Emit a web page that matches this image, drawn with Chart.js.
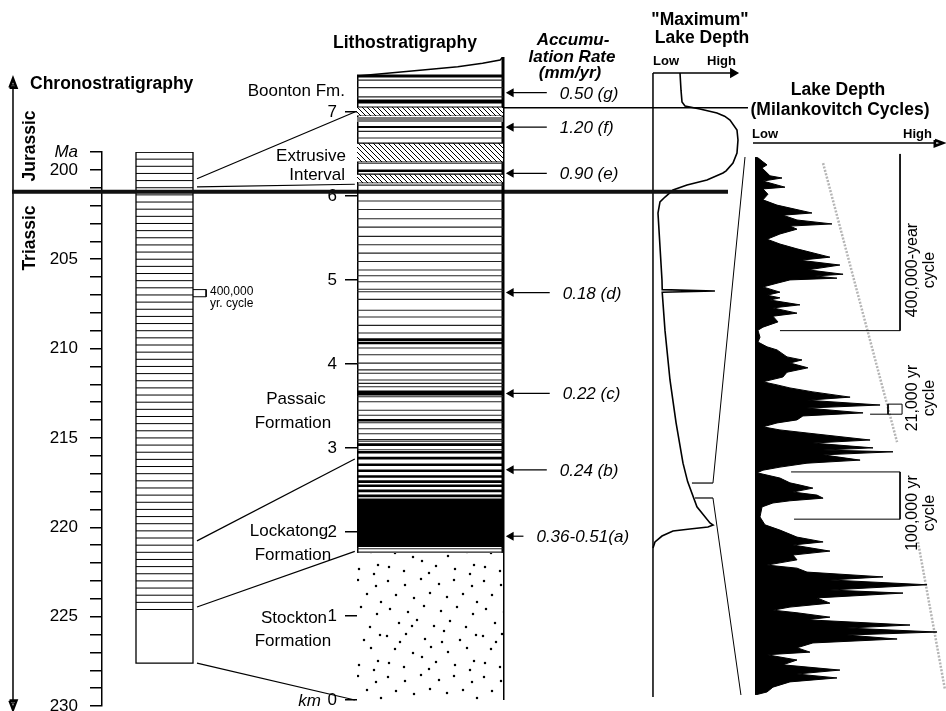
<!DOCTYPE html>
<html>
<head>
<meta charset="utf-8">
<title>Newark basin stratigraphy</title>
<script src="https://cdn.jsdelivr.net/npm/chart.js@4.4.1/dist/chart.umd.min.js"></script>
<style>
 html,body{margin:0;padding:0;background:#fff;}
 #wrap{position:relative;width:946px;height:711px;overflow:hidden;background:#fff;
   font-family:"Liberation Sans",Arial,Helvetica,sans-serif;color:#000;}
 #wrap canvas{position:absolute;left:0;top:0;width:946px;height:711px;}
 .t{position:absolute;white-space:nowrap;line-height:1;}
</style>
</head>
<body>
<div id="wrap">
 <canvas id="cA" width="946" height="711"></canvas>
 <canvas id="cB" width="946" height="711"></canvas>
 <canvas id="cC" width="946" height="711"></canvas>
</div>
<script>
// ================= DATA =================
// Chronostratigraphy (Ma)
const maRange = [199, 230];
const chronoColumnMa = [199, 227.6];
const cycleBoundariesMa = [199.0,199.4,199.8,200.2,200.6,201.0,201.4,201.8,202.2,202.6,203.0,203.4,203.8,204.2,204.6,
  205.0,205.4,205.8,206.2,206.6,207.0,207.4,207.8,208.2,208.6,209.0,209.4,209.8,210.2,210.6,211.0,211.4,211.8,212.2,
  212.6,213.0,213.4,213.8,214.2,214.6,215.0,215.4,215.8,216.2,216.6,217.0,217.4,217.8,218.2,218.6,219.0,219.4,219.8,
  220.2,220.6,221.0,221.4,221.8,222.2,222.6,223.0,223.4,223.8,224.2,224.6];
const cycleMarkerMa = [206.7, 207.1];
const timeArrowMa = [194.9, 230.2];

// Correlation of the time scale with the section (Ma -> km)
const corrMa = [200.5, 200.95, 220.76, 224.46, 227.6];
const corrKm = [7.0, 6.14, 2.87, 1.77, 0.0];

// Lithostratigraphy (km)
const kmRange = [0, 7.655];
const columnTopKm = 7.43;
const capPos = [0, 0.45, 0.69, 0.86, 0.98, 1.0];
const capKm = [7.43, 7.50, 7.54, 7.58, 7.62, 7.655];
const stippleKm = [0, 1.75];
const blackBandsKm = [[1.82, 2.40], [7.10, 7.15], [6.81, 6.835]];
const hatchBandsKm = [[6.16, 6.26], [6.41, 6.63], [6.96, 7.06]];
const greyBandsKm = [[6.88, 6.94]];
const whiteDottedKm = [1.87, 2.02, 2.12, 2.23, 2.31];
const thinLayersKm = [7.18, 7.29, 7.38, 6.13, 6.39, 6.69, 6.77,
  5.94, 5.84, 5.73, 5.63, 5.52, 5.42, 5.32, 5.22, 5.12, 5.05, 4.98, 4.89, 4.86, 4.77, 4.64, 4.56, 4.46, 4.37,
  4.19, 4.11, 4.01, 3.93, 3.89, 3.81, 3.77, 3.73, 3.61, 3.55, 3.45, 3.39, 3.30, 3.23, 3.17, 3.10, 3.08, 2.98,
  1.76, 1.80];
const thickLayersKm = [6.30, 4.29, 4.25, 3.67, 3.64, 3.33, 3.04, 2.95, 2.88, 2.80, 2.73, 2.66, 2.60, 2.55, 2.49, 2.43, 1.645];
const tjBoundaryKm = 6.05;
const boontonBaseKm = 7.05;

// Accumulation rates (mm/yr) and where they apply (km)
const accumKm = [7.23, 6.82, 6.27, 4.85, 3.65, 2.74, 1.95];
const accumLabels = ['0.50 (g)', '1.20 (f)', '0.90 (e)', '0.18 (d)', '0.22 (c)', '0.24 (b)', '0.36-0.51(a)'];

// "Maximum" lake depth (0 = low, 1 = high) versus km
const maxDepthKm  = [7.464, 7.26, 7.119, 7.071, 7.036, 6.988, 6.95, 6.905, 6.786, 6.667, 6.512, 6.393, 6.30, 6.274, 6.19, 6.131, 6.071, 5.988, 5.929, 5.798, 5.0, 4.885, 4.87, 4.855, 4.4, 3.81, 3.3, 2.82, 2.6, 2.30, 2.107, 2.083, 2.06, 2.036, 2.012, 1.952, 1.881, 1.81];
const maxDepthVal = [0.351, 0.364, 0.377, 0.416, 0.610, 0.831, 0.93, 1.0, 1.091, 1.104, 1.091, 1.039, 0.95, 0.909, 0.701, 0.442, 0.260, 0.156, 0.091, 0.065, 0.117, 0.12, 0.805, 0.12, 0.156, 0.221, 0.30, 0.39, 0.45, 0.571, 0.74, 0.78, 0.714, 0.48, 0.26, 0.117, 0.026, 0];
const maxDepthAxisKm = [7.464, 0.036];
const cycleWindowKm = [2.405, 2.583];

// Lake depth (Milankovitch cycles): position in record (kyr from top) and depth (0 low - 100 high)
const milKyr = [0,2,11,18,25,43,48,55,69,73,85,98,110,128,133,144,153,158,165,176,188,199,210,229,236,247,258,268,272,277,
  281,288,297,309,316,322,327,338,345,357,364,377,389,396,412,423,434,441,457,464,471,482,492,503,514,521,528,537,549,556,
  567,574,585,592,601,608,617,624,631,647,654,665,670,674,681,693,700,709,716,722,734,745,750,757,766,773,780,786,791,800,
  823,841,853,869,880,887,901,910,921,933,940,949,960,967,978,990,997,1008,1020,1029,1036,1042,1052,1058,1070,1077,1086,
  1093,1102,1111,1122,1132,1138,1150,1161,1173,1182,1191,1200,1212,1223,1230];
const milDepth = [0,1.6,4.3,6.5,3.8,8.1,14.6,4.3,16.2,4.3,7.0,4.3,11.9,30.8,15.1,22.7,41.6,18.9,22.7,13.5,6.5,13.5,22.7,40.5,24.3,
  45.9,28.6,47.6,32.4,44.3,18.9,12.4,4.3,13.5,6.5,13.5,8.1,24.3,9.7,22.7,9.7,12.4,4.3,1.6,2.7,1.6,6.5,11.9,17.3,25.4,18.9,28.6,
  17.3,15.1,4.3,11.9,18.9,31.3,51.4,28.1,67.6,28.1,58.4,25.9,22.7,11.9,4.3,13.5,28.1,62.2,31.3,63.8,36.8,74.6,36.8,56.8,28.1,
  13.5,4.3,1.1,13.5,18.9,24.3,31.3,20.5,33.5,36.8,18.9,9.7,3.8,2.7,5.4,13.5,22.7,36.8,20.5,40.5,20.5,22.7,6.5,22.7,28.1,69.2,
  40.5,93.0,40.5,80.0,33.5,40.5,18.9,9.7,22.7,40.5,28.1,83.8,49.7,98.4,49.7,76.8,31.3,22.7,29.7,6.5,22.7,15.1,45.9,22.7,44.3,
  18.9,9.7,6.5,0];
const milRange = [0, 1230];
const bracket400Kyr = [-7, 397];
const bracket100Kyr = [720, 828];
const bracket21Kyr = [565, 588];
const trendA = [[36.8, 14], [76.8, 652]];
const trendB = [[88.1, 880], [102.7, 1218]];

// ================= HELPERS =================
const FAM = '"Liberation Sans", Arial, Helvetica, sans-serif';
const wrap = document.getElementById('wrap');
function txt(s, x, y, o = {}) {
  const d = document.createElement('div');
  d.className = 't'; d.textContent = s;
  d.style.fontSize = (o.size || 17) + 'px';
  if (o.bold) d.style.fontWeight = 'bold';
  if (o.italic) d.style.fontStyle = 'italic';
  const ax = o.align === 'right' ? '-100%' : o.align === 'left' ? '0' : '-50%';
  d.style.left = x + 'px'; d.style.top = y + 'px';
  d.style.transform = `translate(${ax},-50%)` + (o.rot ? ` rotate(${o.rot}deg)` : '');
  wrap.appendChild(d);
  return d;
}
function seg(xa, xb, y, extra) {
  return Object.assign({ data: [{ x: xa, y }, { x: xb, y }], borderColor: '#000', borderWidth: 1, pointRadius: 0 }, extra || {});
}
function vseg(x, ya, yb, extra) {
  return Object.assign({ data: [{ x, y: ya }, { x, y: yb }], borderColor: '#000', borderWidth: 1, pointRadius: 0 }, extra || {});
}
// small closed triangle outline (drawn thick so that it reads as a solid arrow head)
function head(tip, base, halfW, vertical, extra) {
  const [tx, ty] = tip;
  const pts = vertical
    ? [{ x: tx - halfW, y: base }, { x: tx, y: ty }, { x: tx + halfW, y: base }, { x: tx - halfW, y: base }]
    : [{ x: base, y: ty - halfW }, { x: tx, y: ty }, { x: base, y: ty + halfW }, { x: base, y: ty - halfW }];
  return Object.assign({ data: pts, borderColor: '#000', borderWidth: 2.6, borderJoinStyle: 'miter', pointRadius: 0, clip: false }, extra || {});
}
function makeStipple() {
  const s = 96, c = document.createElement('canvas'); c.width = s; c.height = s;
  const g = c.getContext('2d'); g.fillStyle = '#fff'; g.fillRect(0, 0, s, s);
  g.fillStyle = '#000';
  [[4,5],[21,9],[37,3],[55,8],[70,4],[88,10],[12,19],[30,22],[46,17],[63,21],[79,18],[93,26],
   [6,33],[24,36],[40,30],[57,35],[73,31],[89,38],[15,47],[33,44],[50,50],[66,45],[82,51],[60,55],
   [3,60],[22,58],[41,63],[76,64],[92,59],[11,73],[29,77],[47,71],[64,76],[83,72],[38,81],
   [5,87],[20,91],[52,86],[71,89],[90,85],[16,66],[86,94],[45,93],[58,66],[28,50]]
    .forEach(([x, y]) => { g.beginPath(); g.arc(x, y, 1.25, 0, Math.PI * 2); g.fill(); });
  return g.createPattern(c, 'repeat');
}
function makeHatch() {
  const s = 5, c = document.createElement('canvas'); c.width = s; c.height = s;
  const g = c.getContext('2d'); g.fillStyle = '#fff'; g.fillRect(0, 0, s, s);
  g.strokeStyle = '#000'; g.lineWidth = 1;
  g.beginPath(); g.moveTo(-1, -1); g.lineTo(s + 1, s + 1); g.moveTo(-1, s - 1); g.lineTo(1, s + 1); g.moveTo(s - 1, -1); g.lineTo(s + 1, 1); g.stroke();
  return g.createPattern(c, 'repeat');
}
const BASE = () => ({
  responsive: false, animation: false, events: [],
  plugins: { legend: { display: false }, tooltip: { enabled: false } },
  elements: { point: { radius: 0, hoverRadius: 0 }, line: { tension: 0, borderColor: '#000', borderWidth: 1, fill: false } },
});

// ================= CHART A : chronostratigraphy =================
const timeArrowX = -2.158;
const dsA = [];
dsA.push({ data: [{x:0,y:chronoColumnMa[0]},{x:1,y:chronoColumnMa[0]},{x:1,y:chronoColumnMa[1]},{x:0,y:chronoColumnMa[1]},{x:0,y:chronoColumnMa[0]}], borderWidth: 1.3, borderColor: '#000' });
cycleBoundariesMa.forEach(m => dsA.push(seg(0, 1, m, { borderWidth: 1 })));
dsA.push({ data: [{x:1,y:cycleMarkerMa[0]},{x:1.23,y:cycleMarkerMa[0]},{x:1.23,y:cycleMarkerMa[1]},{x:1,y:cycleMarkerMa[1]}], borderWidth: 1, borderColor: '#000', clip: false });
dsA.push(vseg(timeArrowX, timeArrowMa[0] + 0.3, timeArrowMa[1] - 0.3, { borderWidth: 1.5, clip: false }));
dsA.push(head([timeArrowX, timeArrowMa[0]], timeArrowMa[0] + 0.5, 0.06, true));
dsA.push(head([timeArrowX, timeArrowMa[1]], timeArrowMa[1] - 0.5, 0.06, true));

const optA = BASE();
optA.layout = { padding: { left: 0, top: 152, right: 746, bottom: 5 } };
optA.scales = {
  x: { type: 'linear', display: false, min: -0.5965, max: 1.1228 },
  y: { type: 'linear', reverse: true, min: maRange[0], max: maRange[1], position: 'left',
    afterFit(s) { s.width = 102; s.paddingTop = 0; s.paddingBottom = 0; },
    border: { display: true, color: '#000', width: 1.5 },
    grid: { drawOnChartArea: false, drawTicks: true, tickLength: 12, color: '#000', lineWidth: 1.5 },
    ticks: { stepSize: 1, autoSkip: false, padding: 12, color: '#000',
      font: ctx => ({ family: FAM, size: 17, style: (ctx.tick && ctx.tick.value === 199) ? 'italic' : 'normal' }),
      callback: v => v === 199 ? 'Ma' : (v % 5 === 0 ? String(v) : '') } }
};
const chartA = new Chart(document.getElementById('cA'), { type: 'line', data: { datasets: dsA }, options: optA });

// ================= CHART B : lithostratigraphy + maximum lake depth =================
const stipple = makeStipple(), hatch = makeHatch();
const dsB = [];
const L = (d) => Object.assign({ xAxisID: 'xL', yAxisID: 'y' }, d);
const D = (d) => Object.assign({ xAxisID: 'xD', yAxisID: 'y' }, d);
dsB.push(L({ data: [{x:0,y:stippleKm[1]},{x:1,y:stippleKm[1]}], fill: { value: stippleKm[0] }, backgroundColor: stipple, borderWidth: 0 }));
blackBandsKm.forEach(([b, t]) => dsB.push(L({ data: [{x:0,y:t},{x:1,y:t}], fill: { value: b }, backgroundColor: '#000', borderWidth: 0 })));
hatchBandsKm.forEach(([b, t]) => {
  dsB.push(L({ data: [{x:0,y:t},{x:1,y:t}], fill: { value: b }, backgroundColor: hatch, borderColor: '#000', borderWidth: 1.2 }));
  dsB.push(L(seg(0, 1, b, { borderWidth: 1.2 })));
});
greyBandsKm.forEach(([b, t]) => dsB.push(L({ data: [{x:0,y:t},{x:1,y:t}], fill: { value: b }, backgroundColor: '#7a7a7a', borderWidth: 0 })));
whiteDottedKm.forEach(k => dsB.push(L(seg(0, 1, k, { borderColor: '#fff', borderWidth: 1.3, borderDash: [2, 2] }))));
thinLayersKm.forEach(k => dsB.push(L(seg(0, 1, k, { borderColor: '#222', borderWidth: 1.1 }))));
thickLayersKm.forEach(k => dsB.push(L(seg(0, 1, k, { borderWidth: 2.6 }))));
// column outline
dsB.push(L(vseg(0, 0, columnTopKm, { borderWidth: 3 })));
dsB.push(L(vseg(1, 0, capKm[capKm.length - 1], { borderWidth: 3 })));
dsB.push(L(seg(0, 1, 0, { borderWidth: 3 })));
dsB.push(L(seg(0, 1, columnTopKm, { borderWidth: 3 })));
dsB.push(L({ data: capPos.map((p, i) => ({ x: p, y: capKm[i] })), borderWidth: 1.5, borderColor: '#000' }));
// base of Boonton line and Triassic-Jurassic boundary
dsB.push(L(seg(1, 2.678, boontonBaseKm, { borderWidth: 1.4 })));
dsB.push(L(seg(-2.363, 2.541, tjBoundaryKm, { borderWidth: 4, borderColor: '#111', clip: false })));
// accumulation-rate arrows
const arrowStart = [1.30, 1.30, 1.30, 1.32, 1.32, 1.30, 1.14];
accumKm.forEach((k, i) => dsB.push(L({ data: [{x:1.055,y:k},{x:arrowStart[i],y:k}], borderWidth: 1.2, borderColor: '#000',
  pointStyle: 'triangle', pointRadius: [4, 0], pointRotation: 270, pointBackgroundColor: '#000', pointBorderColor: '#000' })));
// maximum lake depth axes
dsB.push(D(vseg(0, maxDepthAxisKm[0], maxDepthAxisKm[1], { borderWidth: 1.5 })));
dsB.push(D({ data: [{x:0,y:maxDepthAxisKm[0]},{x:1.04,y:maxDepthAxisKm[0]}], borderWidth: 1.5, borderColor: '#000',
  pointStyle: 'triangle', pointRadius: [0, 4.5], pointRotation: 90, pointBackgroundColor: '#000', pointBorderColor: '#000' }));
dsB.push(D({ data: maxDepthKm.map((k, i) => ({ x: maxDepthVal[i], y: k })), borderWidth: 1.6, borderColor: '#000' }));
dsB.push(D(seg(0.506, 0.779, cycleWindowKm[1], { borderWidth: 1.2 })));
dsB.push(D(seg(0.545, 0.779, cycleWindowKm[0], { borderWidth: 1.2 })));

const corrPlugin = {
  id: 'corr',
  afterDatasetsDraw(chart) {
    const ctx = chart.ctx; ctx.save(); ctx.strokeStyle = '#000'; ctx.lineWidth = 1.2;
    corrMa.forEach((m, i) => {
      ctx.beginPath();
      ctx.moveTo(chartA.scales.x.getPixelForValue(1.07), chartA.scales.y.getPixelForValue(m));
      ctx.lineTo(chart.scales.xL.getPixelForValue(-0.015), chart.scales.y.getPixelForValue(corrKm[i]));
      ctx.stroke();
    });
    ctx.restore();
  }
};
const optB = BASE();
optB.layout = { padding: { left: 317, top: 57, right: 189, bottom: 11 } };
optB.scales = {
  xL: { type: 'linear', display: false, min: 0, max: 2.7397 },
  xD: { type: 'linear', display: false, min: -3.844, max: 1.351 },
  y: { type: 'linear', position: 'left', min: kmRange[0], max: kmRange[1],
    afterFit(s) { s.width = 40; s.paddingTop = 0; s.paddingBottom = 0; },
    border: { display: false },
    grid: { drawOnChartArea: false, drawTicks: true, tickLength: 12, color: '#000', lineWidth: 1.5 },
    ticks: { stepSize: 1, includeBounds: false, autoSkip: false, padding: 8, color: '#000', font: { family: FAM, size: 17 } } }
};
const chartB = new Chart(document.getElementById('cB'), { type: 'line', data: { datasets: dsB }, options: optB, plugins: [corrPlugin] });

// ================= CHART C : Milankovitch lake depth =================
const dsC = [];
dsC.push({ data: milKyr.map((k, i) => ({ x: milDepth[i], y: k })), fill: 'origin', backgroundColor: '#000', borderColor: '#000', borderWidth: 1 });
dsC.push({ data: [{x:9.7,y:bracket400Kyr[0]},{x:78.4,y:bracket400Kyr[0]},{x:78.4,y:bracket400Kyr[1]},{x:13.5,y:bracket400Kyr[1]}], borderWidth: 1, borderColor: '#000', clip: false });
dsC.push({ data: [{x:19.5,y:bracket100Kyr[0]},{x:78.4,y:bracket100Kyr[0]},{x:78.4,y:bracket100Kyr[1]},{x:21.1,y:bracket100Kyr[1]}], borderWidth: 1, borderColor: '#000' });
dsC.push({ data: [{x:62.2,y:bracket21Kyr[1]},{x:79.5,y:bracket21Kyr[1]},{x:79.5,y:bracket21Kyr[0]},{x:71.9,y:bracket21Kyr[0]},{x:71.9,y:bracket21Kyr[1]}], borderWidth: 1, borderColor: '#000' });
[trendA, trendB].forEach(tr => dsC.push({ data: tr.map(([x, y]) => ({ x, y })), borderWidth: 2.5, borderColor: '#b5b5b5', borderDash: [2, 1.5], clip: false }));
dsC.push({ data: [{x:-1.1,y:-32},{x:98,y:-32}], borderWidth: 1.5, borderColor: '#000', clip: false });
dsC.push(head([101.5, -32], 97.2, 7, false));

const linkEndDepth = [-5.4, -7.6];
const zoomPlugin = {
  id: 'zoomlink',
  afterDatasetsDraw(chart) {
    const ctx = chart.ctx; ctx.save(); ctx.strokeStyle = '#000'; ctx.lineWidth = 1;
    [[cycleWindowKm[1], milRange[0], linkEndDepth[0]], [cycleWindowKm[0], milRange[1], linkEndDepth[1]]].forEach(([km, kyr, dx]) => {
      ctx.beginPath();
      ctx.moveTo(chartB.scales.xD.getPixelForValue(0.779), chartB.scales.y.getPixelForValue(km));
      ctx.lineTo(chart.scales.x.getPixelForValue(dx), chart.scales.y.getPixelForValue(kyr));
      ctx.stroke();
    });
    ctx.restore();
  }
};
const optC = BASE();
optC.indexAxis = 'y';
optC.layout = { padding: { left: 755, top: 157, right: 6, bottom: 16 } };
optC.scales = {
  x: { type: 'linear', display: false, min: 0, max: 100 },
  y: { type: 'linear', display: false, reverse: true, min: milRange[0], max: milRange[1] }
};
const chartC = new Chart(document.getElementById('cC'), { type: 'line', data: { datasets: dsC }, options: optC, plugins: [zoomPlugin] });

// ================= TEXT =================
txt('Chronostratigraphy', 30, 84, { bold: true, size: 17.5, align: 'left' });
txt('Jurassic', 30, 146, { bold: true, size: 17.5, rot: -90 });
txt('Triassic', 30, 238, { bold: true, size: 17.5, rot: -90 });
txt('400,000', 210, 291, { size: 12, align: 'left' });
txt('yr. cycle', 210, 303, { size: 12, align: 'left' });
txt('Lithostratigraphy', 405, 43, { bold: true, size: 17.5 });
txt('Boonton Fm.', 345, 90, { align: 'right' });
txt('Extrusive', 346, 155, { align: 'right' });
txt('Interval', 345, 174, { align: 'right' });
txt('Passaic', 296, 398);
txt('Formation', 293, 422);
txt('Lockatong', 289, 530);
txt('Formation', 293, 554);
txt('Stockton', 294, 617);
txt('Formation', 293, 640);
txt('km', 321, 700, { italic: true, align: 'right' });
txt('Accumu-', 573, 39, { bold: true, italic: true });
txt('lation Rate', 572, 56, { bold: true, italic: true });
txt('(mm/yr)', 570, 72, { bold: true, italic: true });
txt('"Maximum"', 700, 20, { bold: true, size: 17.5 });
txt('Lake Depth', 702, 38, { bold: true, size: 17.5 });
txt('Low', 653, 60, { bold: true, size: 13, align: 'left' });
txt('High', 707, 60, { bold: true, size: 13, align: 'left' });
txt('Lake Depth', 838, 90, { bold: true, size: 17.5 });
txt('(Milankovitch Cycles)', 840, 110, { bold: true, size: 17.5 });
txt('Low', 752, 133, { bold: true, size: 13, align: 'left' });
txt('High', 932, 133, { bold: true, size: 13, align: 'right' });
txt('400,000-year', 912, 270, { size: 16, rot: -90 });
txt('cycle', 929, 270, { size: 16, rot: -90 });
txt('21,000 yr', 912, 398, { size: 16, rot: -90 });
txt('cycle', 929, 398, { size: 16, rot: -90 });
txt('100,000 yr', 912, 513, { size: 16, rot: -90 });
txt('cycle', 929, 513, { size: 16, rot: -90 });
accumKm.forEach((k, i) => {
  const x = chartB.scales.xL.getPixelForValue(arrowStart[i]) + 13;
  txt(accumLabels[i], x, chartB.scales.y.getPixelForValue(k), { italic: true, align: 'left' });
});
</script>
</body>
</html>
